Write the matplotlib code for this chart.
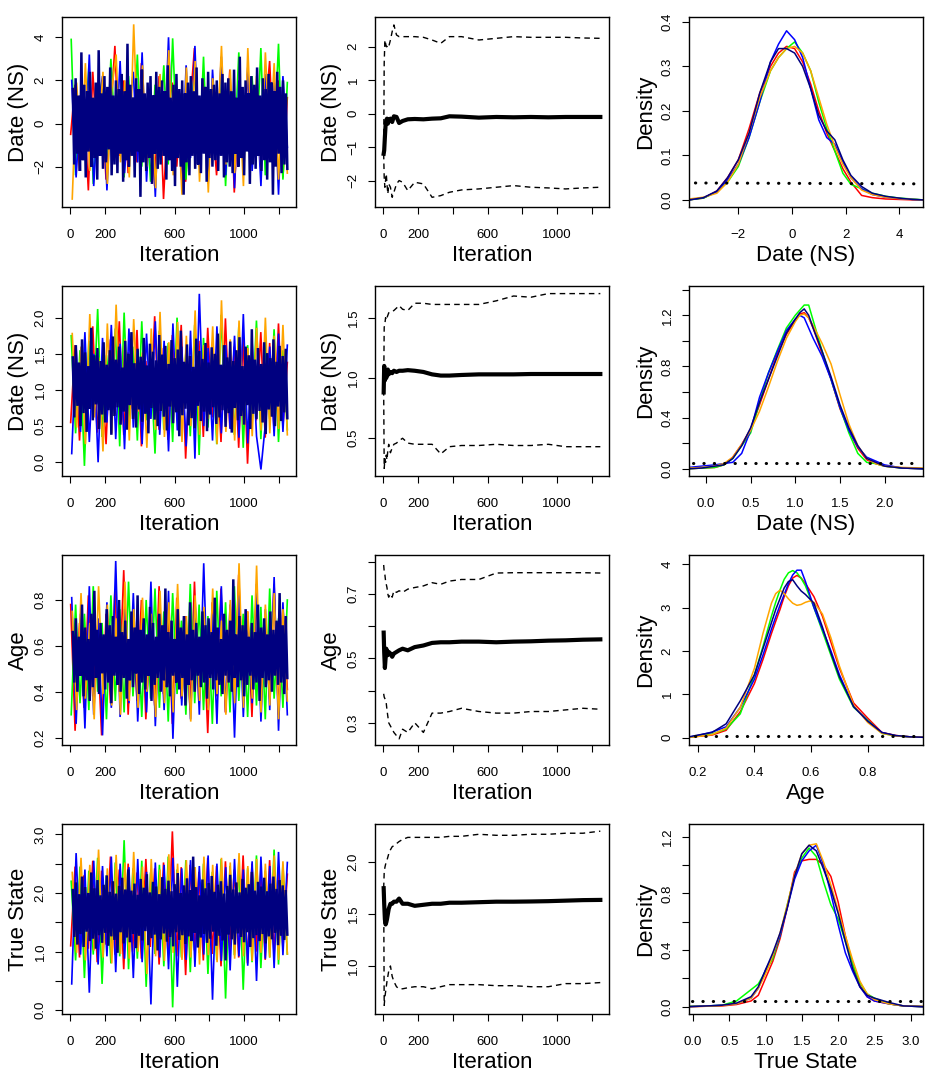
import numpy as np
import matplotlib
matplotlib.use("Agg")
import matplotlib.pyplot as plt

plt.rcParams['font.family'] = ['Liberation Sans', 'DejaVu Sans']

n_iter = 1250
chain_colors = ['#ff0000', '#00ff00', '#0000ff', '#ffa500', '#000080']
chain_widths = [1.2, 1.2, 1.2, 1.2, 1.8]

# ---- trace values (thinned draws) ----
t1_red = [-0.5, 1.8, -2.2, 0.9, -3.1, 2.4, -1.0, 1.3, -2.6, 0.2, 3.6, -1.5, 2.0, -2.3, 0.7, -1.8, 2.8, -0.4, 1.1, -2.9,
          2.2, -3.5, 0.5, 1.9, -2.0, 1.4, -2.7, 0.8, 3.5, -1.2, 2.1, -1.6, 0.3, -2.4, 1.7, -0.9, 2.5, -3.2, 1.0, -1.4,
          2.3, -0.6, 1.6, -2.1, 0.4, 2.9, -1.7, 2.0, -2.5, 1.2]
t1_green = [3.9, -2.4, 1.2, -1.0, 2.6, -2.8, 0.6, 2.0, -1.6, 3.0, -0.7, 1.5, -2.5, 2.2, -1.3, 3.2, -2.0, 0.9, -2.7, 1.8,
            -0.4, 2.7, -1.9, 3.95, -1.1, 1.4, -2.6, 0.5, 2.4, -1.7, 3.1, -2.3, 1.0, -0.8, 2.5, -2.9, 1.7, -1.5, 3.3, -2.1,
            0.7, 2.2, -1.2, 3.5, -2.4, 1.3, -0.9, 3.7, -2.6, 1.9]
t1_blue = [2.0, -2.5, 1.0, -1.7, 3.2, -2.9, 0.8, 2.2, -3.1, 1.5, -1.2, 2.9, -2.3, 0.6, 2.4, -1.8, 3.3, -2.7, 1.1, -3.4,
           2.1, -1.4, 4.0, -2.2, 0.9, -2.6, 2.7, -1.6, 3.6, -2.0, 1.3, -2.8, 2.5, -0.9, 3.1, -2.4, 1.8, -3.0, 2.0, -1.3,
           2.6, -2.2, 1.2, -2.9, 2.3, -0.7, 1.9, -3.3, 2.2, -1.1]
t1_orange = [-3.5, 1.9, -1.4, 2.8, -2.2, 1.2, -0.6, 2.4, -2.8, 1.6, 3.2, -1.8, 2.0, -2.5, 4.6, -1.1, 2.7, -2.0, 0.9, -3.0,
             2.3, -1.5, 3.4, -2.4, 1.0, -3.3, 2.6, -1.2, 2.9, -2.7, 1.5, -3.2, 2.1, -0.8, 3.6, -1.9, 2.5, -2.3, 1.3, -2.9,
             3.5, -1.6, 2.2, -2.1, 3.3, -1.0, 2.8, -2.6, 1.4, -2.3]
t1_navy = [1.6, -1.9, 2.1, -1.4, 1.3, -2.2, 3.3, -1.7, 1.8, -2.5, 1.5, -1.3, 2.4, -2.0, 1.2, -1.6, 1.9, -2.6, 3.4, -1.5,
           1.4, -2.1, 2.2, -1.8, 1.7, -1.2, 2.6, -2.4, 1.3, -1.9, 2.0, -2.3, 1.6, -1.4, 2.3, -2.7, 1.5, -1.7, 3.7, -2.0,
           1.8, -1.5, 1.2, -2.5, 2.1, -1.3, 1.6, -3.4, 2.5, -1.8, 1.4, -2.2, 1.9, -1.6, 2.2, -2.8, 1.3, -1.4, 2.4, -2.1,
           1.7, -1.9, 2.0, -1.5, 1.5, -2.6, 2.7, -1.7, 1.2, -2.2, 1.8, -2.9, 2.3, -1.6, 1.6, -2.0, 2.0, -3.3, 1.4, -1.8,
           1.9, -2.4, 2.2, -1.5, 1.5, -2.1, 2.6, -1.9, 1.3, -2.3, 2.1, -1.4, 1.7, -2.7, 2.4, -1.6, 1.6, -2.0, 1.8, -1.7,
           2.0, -2.2, 1.4, -1.5, 2.3, -2.5, 1.9, -1.8, 2.1, -2.0,
           1.5, -2.3, 2.5, -1.4, 1.2, -2.0, 3.1, -1.6, 1.7, -2.4, 2.0, -1.3, 1.4, -2.8, 2.2, -1.9, 1.8, -2.1, 2.6, -1.5,
           1.3, -2.2, 2.1, -1.7, 1.6, -2.6, 2.3, -1.8, 1.9, -3.3, 1.5, -2.0, 2.4, -1.4, 1.7, -2.3, 2.0, -1.9, 1.4, -2.1]

t2_red = [0.55, 1.62, 0.30, 1.45, 0.82, 1.88, 0.41, 1.30, 0.25, 1.70, 0.66, 1.95, 0.38, 1.52, 0.74, 1.83, 0.22, 1.40, 0.60, 2.02,
          0.45, 1.58, 0.31, 1.76, 0.70, 1.90, 0.05, 1.35, 0.52, 1.68, 0.35, 1.86, 0.62, 1.48, 0.28, 1.99, 0.47, 1.60, 0.20, 1.74,
          -0.02, 1.42, 0.58, 1.80, 0.34, 1.65, 0.44, 1.92, 0.50, 1.38]
t2_green = [1.75, 0.40, 1.55, -0.05, 1.68, 0.62, 2.12, 0.35, 1.48, 0.78, 1.85, 0.22, 2.07, 0.50, 1.60, 0.30, 1.95, 0.58, 1.40, 0.12,
            1.82, 0.45, 1.65, 0.28, 2.00, 0.66, 1.52, 0.36, 1.90, 0.10, 1.72, 0.48, 1.58, 0.25, 2.04, 0.55, 1.44, 0.38, 1.87, 0.20,
            1.62, 0.52, 1.96, 0.32, 1.70, 0.60, 1.84, 0.28, 1.55, 0.45]
t2_blue = [0.12, 1.58, 0.42, 1.80, 0.28, 1.50, 0.00, 1.72, 0.55, 1.90, 0.32, 1.64, 0.18, 1.85, 0.48, 1.55, 0.25, 1.78, 0.60, 1.95,
           0.38, 1.68, 0.15, 1.92, 0.44, 1.60, 0.22, 1.82, 0.05, 2.33, 0.50, 1.58, 0.30, 1.88, 0.40, 1.62, 0.46, 1.75, 0.34, 2.05,
           0.26, 1.66, 0.36, -0.10, 0.52, 1.60, 0.36, 1.78, 0.42, 1.62]
t2_orange = [1.78, 0.48, 1.60, 0.25, 2.05, 0.62, 1.45, 0.15, 1.92, 0.40, 2.18, 0.55, 1.70, 0.30, 1.98, 0.70, 1.52, 0.20, 1.85, 0.45,
             2.08, 0.35, 1.66, 0.58, 1.94, 0.28, 1.75, 0.50, 2.10, 0.38, 1.62, 0.60, 1.88, 0.25, 2.24, 0.42, 1.70, 0.30, 1.96, 0.52,
             1.58, 0.36, 1.86, 0.44, 2.00, 0.40, 1.75, 0.46, 1.90, 0.38]
t2_navy = [1.45, 0.62, 1.62, 0.78, 1.38, 0.50, 1.70, 0.68, 1.52, 0.42, 1.33, 0.74, 1.86, 0.58, 1.48, 0.80, 1.58, 0.46, 1.40, 0.66,
           1.66, 0.55, 1.35, 0.72, 1.55, 0.38, 1.74, 0.64, 1.42, 0.76, 1.60, 0.52, 1.31, 0.70, 1.68, 0.45, 1.50, 0.79, 1.80, 0.60,
           1.37, 0.48, 1.57, 0.73, 1.46, 0.56, 1.72, 0.67, 1.34, 0.40, 1.64, 0.75, 1.53, 0.59, 1.41, 0.50, 1.76, 0.71, 1.49, 0.63,
           1.61, 0.44, 1.36, 0.77, 1.69, 0.54, 1.44, 0.69, 1.56, 0.36, 1.82, 0.65, 1.39, 0.74, 1.63, 0.51, 1.47, 0.61, 1.32, 0.47,
           1.71, 0.78, 1.54, 0.57, 1.43, 0.70, 1.65, 0.43, 1.38, 0.66, 1.59, 0.76, 1.50, 0.53, 1.78, 0.62, 1.35, 0.72, 1.62, 0.49,
           1.45, 0.68, 1.67, 0.41, 1.40, 0.75, 1.55, 0.58, 1.73, 0.64, 1.33, 0.52, 1.60, 0.79, 1.48, 0.46, 1.84, 0.67, 1.42, 0.60,
           1.58, 0.71, 1.36, 0.55, 1.66, 0.39, 1.51, 0.73, 1.44, 0.63, 1.70, 0.50, 1.39, 0.77, 1.61, 0.57, 1.47, 0.69, 1.57, 0.61]

t3_red = [0.78, 0.23, 0.70, 0.33, 0.82, 0.38, 0.65, 0.21, 0.74, 0.35, 0.84, 0.40, 0.93, 0.30, 0.72, 0.36, 0.80, 0.28, 0.68, 0.34,
          0.86, 0.39, 0.76, 0.26, 0.81, 0.37, 0.73, 0.32, 0.88, 0.35, 0.69, 0.22, 0.79, 0.38, 0.85, 0.31, 0.72, 0.36, 0.91, 0.40,
          0.75, 0.29, 0.83, 0.34, 0.70, 0.37, 0.87, 0.30, 0.77, 0.41]
t3_green = [0.30, 0.78, 0.35, 0.74, 0.32, 0.86, 0.40, 0.70, 0.28, 0.82, 0.36, 0.76, 0.31, 0.88, 0.38, 0.72, 0.29, 0.80, 0.37, 0.85,
            0.33, 0.75, 0.27, 0.83, 0.39, 0.71, 0.30, 0.87, 0.35, 0.78, 0.32, 0.73, 0.26, 0.84, 0.38, 0.79, 0.31, 0.86, 0.36, 0.74,
            0.29, 0.82, 0.34, 0.77, 0.28, 0.85, 0.37, 0.72, 0.33, 0.80]
t3_blue = [0.81, 0.26, 0.74, 0.24, 0.86, 0.30, 0.72, 0.21, 0.79, 0.33, 0.97, 0.29, 0.76, 0.35, 0.83, 0.27, 0.70, 0.31, 0.88, 0.25,
           0.75, 0.32, 0.84, 0.195, 0.77, 0.34, 0.72, 0.28, 0.80, 0.30, 0.96, 0.33, 0.74, 0.26, 0.86, 0.31, 0.78, 0.20, 0.82, 0.29,
           0.73, 0.35, 0.87, 0.27, 0.76, 0.32, 0.90, 0.23, 0.79, 0.30]
t3_orange = [0.75, 0.32, 0.83, 0.37, 0.70, 0.28, 0.86, 0.39, 0.78, 0.34, 0.72, 0.30, 0.88, 0.36, 0.76, 0.33, 0.81, 0.40, 0.74, 0.29,
             0.84, 0.35, 0.79, 0.31, 0.87, 0.38, 0.73, 0.27, 0.82, 0.36, 0.77, 0.32, 0.85, 0.39, 0.71, 0.30, 0.80, 0.35, 0.96, 0.33,
             0.75, 0.37, 0.95, 0.31, 0.78, 0.34, 0.83, 0.28, 0.76, 0.36]
t3_navy = [0.66, 0.44, 0.72, 0.40, 0.64, 0.47, 0.78, 0.38, 0.68, 0.45, 0.63, 0.36, 0.74, 0.42, 0.84, 0.46, 0.67, 0.39, 0.70, 0.48,
           0.65, 0.41, 0.76, 0.44, 0.69, 0.35, 0.73, 0.47, 0.64, 0.43, 0.80, 0.40, 0.66, 0.46, 0.71, 0.37, 0.63, 0.45, 0.75, 0.42,
           0.68, 0.48, 0.82, 0.39, 0.67, 0.44, 0.72, 0.41, 0.65, 0.47, 0.77, 0.36, 0.70, 0.43, 0.64, 0.46, 0.74, 0.40, 0.69, 0.45,
           0.85, 0.42, 0.66, 0.38, 0.71, 0.47, 0.63, 0.44, 0.76, 0.41, 0.68, 0.46, 0.73, 0.34, 0.65, 0.43, 0.79, 0.45, 0.67, 0.40,
           0.70, 0.47, 0.64, 0.42, 0.75, 0.44, 0.69, 0.37, 0.72, 0.46, 0.66, 0.41, 0.81, 0.45, 0.68, 0.43, 0.63, 0.39, 0.74, 0.47,
           0.67, 0.44, 0.71, 0.40, 0.89, 0.46, 0.65, 0.42, 0.73, 0.45, 0.69, 0.38, 0.76, 0.43, 0.64, 0.47, 0.70, 0.41, 0.66, 0.44,
           0.78, 0.36, 0.68, 0.46, 0.72, 0.42, 0.65, 0.45, 0.75, 0.40, 0.67, 0.47, 0.71, 0.43, 0.83, 0.44, 0.69, 0.39, 0.73, 0.46]

t4_red = [1.10, 2.45, 0.90, 2.30, 1.05, 2.55, 0.82, 2.38, 1.12, 2.62, 0.95, 2.40, 0.70, 2.50, 1.00, 2.35, 0.88, 2.58, 1.08, 2.42,
          0.78, 2.52, 0.98, 3.05, 0.92, 2.44, 0.60, 2.48, 1.02, 2.36, 0.85, 2.60, 0.96, 2.46, 0.75, 2.54, 1.04, 2.40, 0.90, 2.64,
          0.80, 2.50, 1.00, 2.38, 0.86, 2.56, 0.94, 2.44, 1.06, 2.32]
t4_green = [2.20, 0.85, 2.45, 0.55, 2.38, 0.95, 2.60, 0.45, 2.30, 0.80, 2.52, 0.92, 2.90, 0.70, 2.42, 0.88, 2.55, 0.40, 2.35, 0.96,
            2.48, 0.75, 2.62, 0.05, 2.40, 0.90, 2.56, 0.65, 2.44, 0.98, 2.50, 0.62, 2.36, 0.86, 2.58, 0.20, 2.46, 0.94, 2.52, 0.35,
            2.42, 0.82, 2.64, 0.72, 2.38, 0.90, 2.74, 0.78, 2.48, 0.96]
t4_blue = [0.45, 2.68, 0.95, 2.40, 0.30, 2.55, 0.78, 2.46, 0.92, 2.62, 0.65, 2.50, 0.88, 2.44, 0.55, 2.58, 0.82, 2.36, 0.10, 2.52,
           0.90, 2.48, 0.70, 2.60, 0.40, 2.42, 0.86, 2.56, 0.74, 2.46, 0.95, 2.64, 0.18, 2.50, 0.84, 2.44, 0.68, 2.58, 0.92, 2.40,
           0.76, 2.54, 0.50, 2.62, 0.88, 2.46, 0.72, 2.70, 0.94, 2.52]
t4_orange = [2.35, 0.98, 2.60, 0.85, 2.48, 1.02, 2.74, 0.90, 2.42, 0.80, 2.65, 0.96, 2.52, 0.88, 2.70, 1.00, 2.45, 0.62, 2.58, 0.92,
             2.40, 0.84, 2.66, 0.98, 2.50, 0.86, 2.56, 0.90, 2.44, 0.78, 2.62, 0.94, 2.48, 0.82, 2.60, 0.96, 2.52, 0.88, 2.68, 0.92,
             2.46, 0.84, 2.58, 0.98, 2.50, 0.90, 2.64, 0.86, 2.54, 0.96]
t4_navy = [2.05, 1.25, 2.18, 1.12, 1.98, 1.30, 2.28, 1.08, 2.10, 1.34, 2.00, 1.18, 2.35, 1.22, 2.08, 1.05, 2.22, 1.28, 1.96, 1.15,
           2.14, 1.32, 2.30, 1.10, 2.02, 1.26, 2.20, 1.20, 1.99, 0.98, 2.12, 1.33, 2.26, 1.14, 2.06, 1.24, 2.40, 1.16, 2.04, 1.30,
           2.16, 1.06, 1.97, 1.27, 2.24, 1.19, 2.09, 1.35, 2.32, 1.11, 2.01, 1.23, 2.19, 1.29, 2.11, 1.02, 1.98, 1.21, 2.27, 1.31,
           2.07, 1.17, 2.21, 1.25, 2.03, 1.09, 2.15, 1.33, 2.34, 1.20, 2.00, 1.28, 2.13, 1.13, 2.25, 1.26, 2.05, 1.18, 2.62, 1.32,
           2.10, 1.07, 1.96, 1.24, 2.23, 1.30, 2.08, 1.15, 2.17, 1.22, 2.29, 1.34, 2.02, 1.10, 2.14, 1.27, 2.20, 1.19, 1.99, 0.85,
           2.12, 1.29, 2.31, 1.21, 2.06, 1.12, 2.18, 1.31, 2.01, 1.25, 2.24, 1.16, 2.09, 1.33, 2.15, 1.08, 2.36, 1.23, 2.04, 1.28,
           2.19, 1.18, 2.11, 1.30, 2.26, 1.14, 2.03, 1.26, 2.16, 1.21, 2.28, 1.32, 2.07, 1.11, 2.22, 1.27, 2.13, 1.20, 2.05, 1.29]

# ---- running mean and running 2.5% / 97.5% quantiles ----
run_iter = [1, 4, 8, 12, 16, 20, 25, 30, 40, 50, 60, 75, 90, 110, 140, 180, 230, 280, 330, 380, 450, 550, 650, 750,
            850, 950, 1050, 1150, 1250]
r1_mean = [-1.2, -1.1, -0.7, -0.35, -0.2, -0.15, -0.3, -0.2, -0.15, -0.25, -0.08, -0.1, -0.28, -0.22, -0.17, -0.16,
           -0.17, -0.15, -0.14, -0.08, -0.09, -0.12, -0.1, -0.11, -0.1, -0.11, -0.1, -0.1, -0.1]
r1_hi = [-1.2, 1.5, 2.2, 2.1, 2.0, 2.0, 2.05, 2.0, 2.2, 2.45, 2.65, 2.35, 2.3, 2.3, 2.3, 2.3, 2.28, 2.2, 2.1, 2.3,
         2.3, 2.2, 2.25, 2.3, 2.28, 2.28, 2.28, 2.26, 2.25]
r1_lo = [-1.2, -1.9, -2.2, -2.0, -1.8, -2.1, -2.4, -2.1, -2.2, -2.5, -2.35, -2.1, -2.0, -2.05, -2.3, -2.05, -2.1,
         -2.5, -2.45, -2.35, -2.28, -2.25, -2.2, -2.15, -2.2, -2.22, -2.25, -2.22, -2.2]
r2_mean = [0.88, 1.1, 0.98, 1.06, 1.0, 1.04, 1.07, 1.03, 1.05, 1.04, 1.06, 1.05, 1.06, 1.06, 1.065, 1.06, 1.05, 1.03,
           1.02, 1.02, 1.025, 1.03, 1.03, 1.03, 1.033, 1.033, 1.033, 1.033, 1.033]
r2_hi = [0.9, 1.42, 1.45, 1.5, 1.48, 1.5, 1.52, 1.54, 1.55, 1.55, 1.56, 1.58, 1.6, 1.57, 1.56, 1.62, 1.62, 1.61, 1.61,
         1.61, 1.61, 1.61, 1.64, 1.68, 1.67, 1.7, 1.7, 1.7, 1.7]
r2_lo = [0.9, 0.25, 0.33, 0.3, 0.36, 0.32, 0.4, 0.45, 0.38, 0.42, 0.45, 0.46, 0.48, 0.5, 0.46, 0.45, 0.45, 0.45, 0.37,
         0.43, 0.44, 0.44, 0.45, 0.44, 0.44, 0.45, 0.43, 0.43, 0.43]
r3_mean = [0.58, 0.52, 0.47, 0.5, 0.53, 0.52, 0.51, 0.52, 0.515, 0.505, 0.515, 0.52, 0.525, 0.53, 0.525, 0.535, 0.54,
           0.548, 0.55, 0.55, 0.552, 0.552, 0.55, 0.552, 0.553, 0.555, 0.556, 0.558, 0.559]
r3_hi = [0.79, 0.77, 0.76, 0.74, 0.73, 0.72, 0.7, 0.69, 0.7, 0.69, 0.71, 0.705, 0.71, 0.705, 0.715, 0.72, 0.725, 0.735,
         0.73, 0.74, 0.745, 0.745, 0.765, 0.766, 0.766, 0.766, 0.766, 0.766, 0.765]
r3_lo = [0.39, 0.38, 0.375, 0.37, 0.36, 0.34, 0.32, 0.3, 0.29, 0.28, 0.27, 0.26, 0.25, 0.28, 0.27, 0.3, 0.27, 0.33,
         0.33, 0.335, 0.345, 0.335, 0.33, 0.33, 0.335, 0.335, 0.34, 0.345, 0.342]
r4_mean = [1.75, 1.6, 1.45, 1.4, 1.42, 1.45, 1.5, 1.55, 1.6, 1.6, 1.62, 1.62, 1.65, 1.6, 1.6, 1.58, 1.59, 1.6, 1.6,
           1.61, 1.61, 1.615, 1.62, 1.62, 1.622, 1.625, 1.63, 1.635, 1.637]
r4_hi = [1.75, 1.9, 1.95, 1.98, 2.0, 2.02, 2.05, 2.08, 2.12, 2.15, 2.16, 2.18, 2.2, 2.22, 2.24, 2.24, 2.24, 2.24, 2.24,
         2.25, 2.25, 2.27, 2.26, 2.26, 2.27, 2.27, 2.28, 2.28, 2.3]
r4_lo = [1.75, 0.62, 0.7, 0.75, 0.8, 0.85, 0.9, 0.95, 1.0, 0.9, 0.85, 0.8, 0.78, 0.78, 0.79, 0.8, 0.8, 0.78, 0.8, 0.82,
         0.82, 0.82, 0.81, 0.81, 0.8, 0.8, 0.83, 0.83, 0.84]

# ---- per-chain posterior densities ----
d1_x = [-3.84, -3.3, -2.8, -2.4, -2.0, -1.6, -1.2, -0.8, -0.5, -0.2, 0.1, 0.4, 0.7, 1.0, 1.3, 1.6, 1.9, 2.2, 2.6,
        3.0, 3.5, 4.0, 4.5, 4.89]
d1_red = [0, 0.004, 0.02, 0.05, 0.09, 0.16, 0.24, 0.30, 0.33, 0.345, 0.34, 0.31, 0.26, 0.2, 0.15, 0.11, 0.07, 0.04,
          0.01, 0.005, 0.002, 0.001, 0, 0]
d1_green = [0, 0.004, 0.018, 0.04, 0.075, 0.14, 0.22, 0.29, 0.32, 0.34, 0.355, 0.33, 0.29, 0.22, 0.16, 0.11, 0.06,
            0.035, 0.025, 0.015, 0.008, 0.004, 0.002, 0]
d1_blue = [0, 0.005, 0.018, 0.045, 0.08, 0.14, 0.22, 0.31, 0.35, 0.38, 0.36, 0.32, 0.25, 0.18, 0.14, 0.125, 0.085,
           0.05, 0.025, 0.012, 0.006, 0.003, 0.001, 0]
d1_orange = [0.002, 0.006, 0.015, 0.04, 0.08, 0.15, 0.23, 0.29, 0.32, 0.34, 0.345, 0.33, 0.29, 0.23, 0.17, 0.12, 0.08,
             0.05, 0.022, 0.012, 0.006, 0.003, 0.001, 0]
d1_navy = [0, 0.005, 0.02, 0.05, 0.09, 0.15, 0.24, 0.31, 0.34, 0.34, 0.33, 0.30, 0.25, 0.19, 0.155, 0.135, 0.09,
           0.055, 0.03, 0.015, 0.008, 0.004, 0.001, 0]

d2_x = [-0.19, -0.05, 0.1, 0.2, 0.3, 0.4, 0.5, 0.6, 0.7, 0.8, 0.9, 1.0, 1.05, 1.1, 1.15, 1.2, 1.3, 1.4, 1.5, 1.6,
        1.7, 1.8, 1.9, 2.0, 2.2, 2.43]
d2_red = [0, 0.005, 0.01, 0.03, 0.09, 0.19, 0.31, 0.50, 0.70, 0.90, 1.05, 1.16, 1.21, 1.22, 1.18, 1.10, 0.90, 0.70,
          0.47, 0.30, 0.16, 0.07, 0.04, 0.02, 0.005, 0]
d2_green = [0, 0.005, 0.01, 0.03, 0.08, 0.18, 0.28, 0.52, 0.75, 0.93, 1.10, 1.2, 1.24, 1.28, 1.28, 1.16, 0.92, 0.70,
            0.48, 0.28, 0.12, 0.05, 0.04, 0.02, 0.005, 0]
d2_blue = [0.01, 0.02, 0.03, 0.04, 0.05, 0.12, 0.30, 0.56, 0.75, 0.92, 1.08, 1.17, 1.2, 1.18, 1.1, 1.02, 0.88, 0.70,
           0.48, 0.30, 0.17, 0.09, 0.06, 0.03, 0.005, 0]
d2_orange = [0.005, 0.01, 0.02, 0.04, 0.09, 0.19, 0.30, 0.45, 0.64, 0.84, 1.02, 1.15, 1.2, 1.21, 1.18, 1.12, 0.98,
             0.82, 0.58, 0.35, 0.18, 0.08, 0.04, 0.02, 0.01, 0.005]
d2_navy = [0, 0.005, 0.02, 0.03, 0.08, 0.18, 0.32, 0.52, 0.70, 0.88, 1.06, 1.17, 1.22, 1.25, 1.2, 1.1, 0.92, 0.72,
           0.5, 0.32, 0.18, 0.08, 0.05, 0.02, 0.005, 0]

d3_x = [0.169, 0.2, 0.25, 0.3, 0.35, 0.4, 0.43, 0.46, 0.475, 0.49, 0.505, 0.52, 0.535, 0.55, 0.565, 0.58, 0.595,
        0.61, 0.64, 0.67, 0.7, 0.75, 0.8, 0.85, 0.9, 0.95, 0.995]
d3_red = [0.01, 0.03, 0.06, 0.17, 0.6, 1.25, 1.8, 2.4, 2.68, 2.95, 3.25, 3.5, 3.68, 3.74, 3.68, 3.55, 3.4, 3.25, 2.8,
          2.2, 1.6, 0.8, 0.45, 0.12, 0.05, 0.02, 0.01]
d3_green = [0.01, 0.04, 0.08, 0.2, 0.55, 1.45, 2.1, 2.8, 3.12, 3.4, 3.65, 3.8, 3.85, 3.8, 3.67, 3.5, 3.25, 3.0, 2.45,
            1.9, 1.35, 0.7, 0.4, 0.1, 0.04, 0.02, 0.01]
d3_blue = [0.01, 0.05, 0.13, 0.25, 0.7, 1.35, 1.9, 2.5, 2.78, 3.05, 3.3, 3.55, 3.75, 3.86, 3.86, 3.6, 3.3, 3.0, 2.5,
           2.0, 1.45, 0.72, 0.38, 0.12, 0.04, 0.02, 0.01]
d3_orange = [0.01, 0.03, 0.07, 0.22, 0.7, 1.6, 2.4, 3.1, 3.32, 3.4, 3.32, 3.2, 3.1, 3.05, 3.07, 3.12, 3.15, 3.12, 2.85,
             2.3, 1.65, 0.75, 0.35, 0.1, 0.04, 0.02, 0.01]
d3_navy = [0.02, 0.06, 0.12, 0.32, 0.85, 1.45, 2.05, 2.65, 2.95, 3.2, 3.45, 3.6, 3.64, 3.5, 3.38, 3.3, 3.2, 3.1, 2.55,
           1.95, 1.4, 0.72, 0.38, 0.12, 0.05, 0.02, 0.01]

d4_x = [-0.055, 0.2, 0.4, 0.6, 0.8, 0.9, 1.0, 1.1, 1.2, 1.3, 1.4, 1.5, 1.6, 1.7, 1.8, 1.9, 2.0, 2.1, 2.2, 2.3, 2.4,
        2.5, 2.7, 2.9, 3.17]
d4_red = [0, 0.003, 0.005, 0.015, 0.04, 0.08, 0.2, 0.32, 0.48, 0.7, 0.95, 1.03, 1.04, 1.04, 1.0, 0.92, 0.74, 0.5,
          0.3, 0.15, 0.07, 0.04, 0.02, 0.005, 0]
d4_green = [0.002, 0.005, 0.01, 0.04, 0.12, 0.16, 0.25, 0.34, 0.5, 0.72, 0.92, 1.05, 1.12, 1.06, 0.88, 0.72, 0.62,
            0.46, 0.3, 0.17, 0.09, 0.06, 0.02, 0.005, 0]
d4_blue = [0, 0.005, 0.01, 0.02, 0.06, 0.13, 0.26, 0.36, 0.5, 0.7, 0.9, 1.03, 1.1, 1.14, 1.0, 0.8, 0.58, 0.38, 0.25,
           0.14, 0.07, 0.04, 0.02, 0.005, 0]
d4_orange = [0, 0.003, 0.008, 0.02, 0.06, 0.13, 0.23, 0.36, 0.52, 0.72, 0.93, 1.08, 1.14, 1.15, 1.02, 0.86, 0.68,
             0.5, 0.33, 0.18, 0.09, 0.05, 0.02, 0.005, 0.002]
d4_navy = [0, 0.005, 0.01, 0.025, 0.07, 0.14, 0.26, 0.38, 0.52, 0.7, 0.92, 1.08, 1.14, 1.1, 0.97, 0.83, 0.66, 0.46,
           0.27, 0.14, 0.08, 0.06, 0.03, 0.005, 0]

# prior density (nearly flat over the plotted range)
p1_x, p1_y = [-3.6, 4.8], [0.038, 0.036]
p2_x, p2_y = [-0.15, 2.4], [0.042, 0.042]
p3_x, p3_y = [0.19, 0.99], [0.04, 0.04]
p4_x, p4_y = [-0.02, 3.15], [0.04, 0.04]

labels = ['Date (NS)', 'Date (NS)', 'Age', 'True State']
M = '\u2212'

rows = [
    dict(traces=[t1_red, t1_green, t1_blue, t1_orange, t1_navy],
         run=(r1_mean, r1_lo, r1_hi),
         dens=(d1_x, [d1_red, d1_green, d1_blue, d1_orange, d1_navy]), prior=(p1_x, p1_y),
         t_ylim=(-3.87, 4.94), t_yt=[-2, 0, 2, 4], t_yl=[M + '2', '0', '2', '4'],
         r_ylim=(-2.79, 2.887), r_yt=[-2, -1, 0, 1, 2], r_yl=[M + '2', M + '1', '0', '1', '2'],
         d_xlim=(-3.84, 4.89), d_xt=[-2, 0, 2, 4], d_xl=[M + '2', '0', '2', '4'],
         d_ylim=(-0.016, 0.411), d_yt=[0, 0.1, 0.2, 0.3, 0.4], d_yl=['0.0', '0.1', '0.2', '0.3', '0.4']),
    dict(traces=[t2_red, t2_green, t2_blue, t2_orange, t2_navy],
         run=(r2_mean, r2_lo, r2_hi),
         dens=(d2_x, [d2_red, d2_green, d2_blue, d2_orange, d2_navy]), prior=(p2_x, p2_y),
         t_ylim=(-0.19, 2.438), t_yt=[0, 0.5, 1, 1.5, 2], t_yl=['0.0', '0.5', '1.0', '1.5', '2.0'],
         r_ylim=(0.187, 1.763), r_yt=[0.5, 1.0, 1.5], r_yl=['0.5', '1.0', '1.5'],
         d_xlim=(-0.19, 2.43), d_xt=[0, 0.5, 1, 1.5, 2], d_xl=['0.0', '0.5', '1.0', '1.5', '2.0'],
         d_ylim=(-0.057, 1.429), d_yt=[0, 0.2, 0.4, 0.6, 0.8, 1.0, 1.2, 1.4],
         d_yl=['0.0', '', '0.4', '', '0.8', '', '1.2', '']),
    dict(traces=[t3_red, t3_green, t3_blue, t3_orange, t3_navy],
         run=(r3_mean, r3_lo, r3_hi),
         dens=(d3_x, [d3_red, d3_green, d3_blue, d3_orange, d3_navy]), prior=(p3_x, p3_y),
         t_ylim=(0.168, 0.996), t_yt=[0.2, 0.4, 0.6, 0.8], t_yl=['0.2', '0.4', '0.6', '0.8'],
         r_ylim=(0.231, 0.821), r_yt=[0.3, 0.4, 0.5, 0.6, 0.7, 0.8], r_yl=['0.3', '', '0.5', '', '0.7', ''],
         d_xlim=(0.169, 0.995), d_xt=[0.2, 0.4, 0.6, 0.8], d_xl=['0.2', '0.4', '0.6', '0.8'],
         d_ylim=(-0.168, 4.21), d_yt=[0, 1, 2, 3, 4], d_yl=['0', '1', '2', '3', '4']),
    dict(traces=[t4_red, t4_green, t4_blue, t4_orange, t4_navy],
         run=(r4_mean, r4_lo, r4_hi),
         dens=(d4_x, [d4_red, d4_green, d4_blue, d4_orange, d4_navy]), prior=(p4_x, p4_y),
         t_ylim=(-0.063, 3.176), t_yt=[0, 0.5, 1, 1.5, 2, 2.5, 3],
         t_yl=['0.0', '', '1.0', '', '2.0', '', '3.0'],
         r_ylim=(0.537, 2.369), r_yt=[1.0, 1.5, 2.0], r_yl=['1.0', '1.5', '2.0'],
         d_xlim=(-0.055, 3.17), d_xt=[0, 0.5, 1, 1.5, 2, 2.5, 3],
         d_xl=['0.0', '0.5', '1.0', '1.5', '2.0', '2.5', '3.0'],
         d_ylim=(-0.052, 1.29), d_yt=[0, 0.2, 0.4, 0.6, 0.8, 1.0, 1.2],
         d_yl=['0.0', '', '0.4', '', '0.8', '', '1.2']),
]

W, H = 941, 1076
col_left = [62, 375, 689]
row_top = [17, 286, 555, 824]
ax_w, ax_h = 234, 190

iter_ticks = [0, 200, 400, 600, 800, 1000, 1200]
iter_labels = ['0', '200', '', '600', '', '1000', '']
iter_lim = (-49, 1300)

fig = plt.figure(figsize=(W / 100, H / 100), dpi=100)


def style(ax, xlabel, ylabel):
    for s in ax.spines.values():
        s.set_linewidth(1.0)
    ax.tick_params(direction='out', length=5, width=0.8, labelsize=9.5, top=False, right=False)
    ax.tick_params(axis='x', pad=11)
    ax.tick_params(axis='y', pad=6)
    for t in ax.get_yticklabels():
        t.set_rotation(90)
        t.set_va('center')
    ax.set_xlabel(xlabel, fontsize=16)
    ax.set_ylabel(ylabel, fontsize=16)
    ax.xaxis.set_label_coords(0.5, -38 / ax_h)
    ax.yaxis.set_label_coords(-33 / ax_w, 0.5)


for i, row in enumerate(rows):
    bottom = (H - row_top[i] - ax_h) / H
    axes = [fig.add_axes([col_left[j] / W, bottom, ax_w / W, ax_h / H]) for j in range(3)]

    # trace plot
    ax = axes[0]
    for k, (vals, c, lw) in enumerate(zip(row['traces'], chain_colors, chain_widths)):
        x = np.linspace(1 + 3 * k, n_iter, len(vals))
        ax.plot(x, vals, color=c, lw=lw, solid_joinstyle='miter')
    ax.set_xlim(*iter_lim)
    ax.set_ylim(*row['t_ylim'])
    ax.set_xticks(iter_ticks)
    ax.set_xticklabels(iter_labels)
    ax.set_yticks(row['t_yt'])
    ax.set_yticklabels(row['t_yl'])
    style(ax, 'Iteration', labels[i])

    # running mean with quantile bands
    ax = axes[1]
    mean, lo, hi = row['run']
    ax.plot(run_iter, hi, color='black', lw=1.0, ls=(0, (4, 3)))
    ax.plot(run_iter, lo, color='black', lw=1.0, ls=(0, (4, 3)))
    ax.plot(run_iter, mean, color='black', lw=3.0, solid_joinstyle='round')
    ax.set_xlim(*iter_lim)
    ax.set_ylim(*row['r_ylim'])
    ax.set_xticks(iter_ticks)
    ax.set_xticklabels(iter_labels)
    ax.set_yticks(row['r_yt'])
    ax.set_yticklabels(row['r_yl'])
    style(ax, 'Iteration', labels[i])

    # densities per chain
    ax = axes[2]
    dx, dys = row['dens']
    for dy, c in zip(dys, chain_colors):
        ax.plot(dx, dy, color=c, lw=1.1)
    px, py = row['prior']
    ax.plot(px, py, color='black', lw=2.2, ls=(0, (0.1, 3.3)), dash_capstyle='round')
    ax.set_xlim(*row['d_xlim'])
    ax.set_ylim(*row['d_ylim'])
    ax.set_xticks(row['d_xt'])
    ax.set_xticklabels(row['d_xl'])
    ax.set_yticks(row['d_yt'])
    ax.set_yticklabels(row['d_yl'])
    style(ax, labels[i], 'Density')

fig.savefig('out.png', dpi=100)
